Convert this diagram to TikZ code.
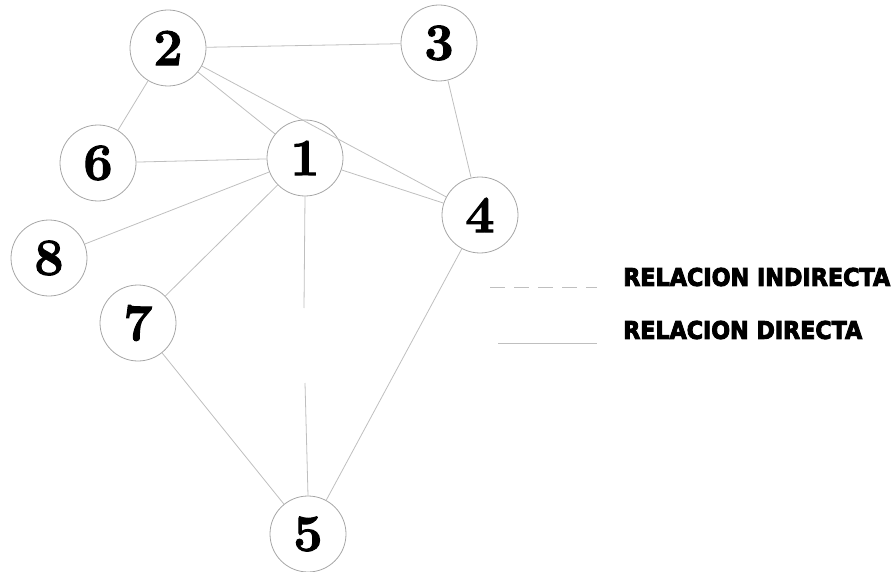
\documentclass[tikz,border=0pt]{standalone}
\usepackage{fontspec}
\newfontfamily\legfont{DejaVu Sans}[BoldFeatures={FakeBold=4}]
\newfontfamily\digfont{Latin Modern Roman}[BoldFeatures={FakeBold=2}]
\begin{document}
\begin{tikzpicture}[x=1pt,y=-1pt,
  vertex/.style={circle,draw=black!35,line width=0.8pt,fill=white,minimum size=76pt,inner sep=0pt,
    font=\fontsize{52}{52}\selectfont\digfont\bfseries},
  edge/.style={draw=black!25,line width=0.8pt},
  legtext/.style={anchor=west,inner sep=0pt}]
\useasboundingbox (0,0) rectangle (896,572);
\node[vertex] (n2) at (168,48) {2};
\node[vertex] (n3) at (439,43) {3};
\node[vertex] (n1) at (305,158) {1};
\node[vertex] (n6) at (98,163) {6};
\node[vertex] (n4) at (480,215) {4};
\node[vertex] (n8) at (49,258) {8};
\node[vertex] (n7) at (138,323) {7};
\node[vertex] (n5) at (308,534) {5};
\coordinate (g1) at (304,308);
\coordinate (g2) at (305,383);
\path[edge] (n2) -- (n3);
\path[edge] (n2) -- (n6);
\path[edge] (n2) -- (n1);
\path[edge] (n2) -- (n4);
\path[edge] (n3) -- (n4);
\path[edge] (n6) -- (n1);
\path[edge] (n8) -- (n1);
\path[edge] (n7) -- (n1);
\path[edge] (n1) -- (n4);
\path[edge] (n1.south) -- (g1);
\path[edge] (g2) -- (n5.north);
\path[edge] (n7) -- (n5);
\path[edge] (n4) -- (n5);
\coordinate (d1) at (490,287);
\coordinate (d2) at (597,287);
\coordinate (s1) at (498,343);
\coordinate (s2) at (597,343);
\path[edge,dash pattern=on 15pt off 9pt] (d1) -- (d2);
\path[edge] (s1) -- (s2);
\node[legtext] (l1) at (623,277) {\resizebox{267pt}{18pt}{\legfont\bfseries RELACION INDIRECTA}};
\node[legtext] (l2) at (623,330) {\resizebox{239pt}{18pt}{\legfont\bfseries RELACION DIRECTA}};
\end{tikzpicture}
\end{document}
